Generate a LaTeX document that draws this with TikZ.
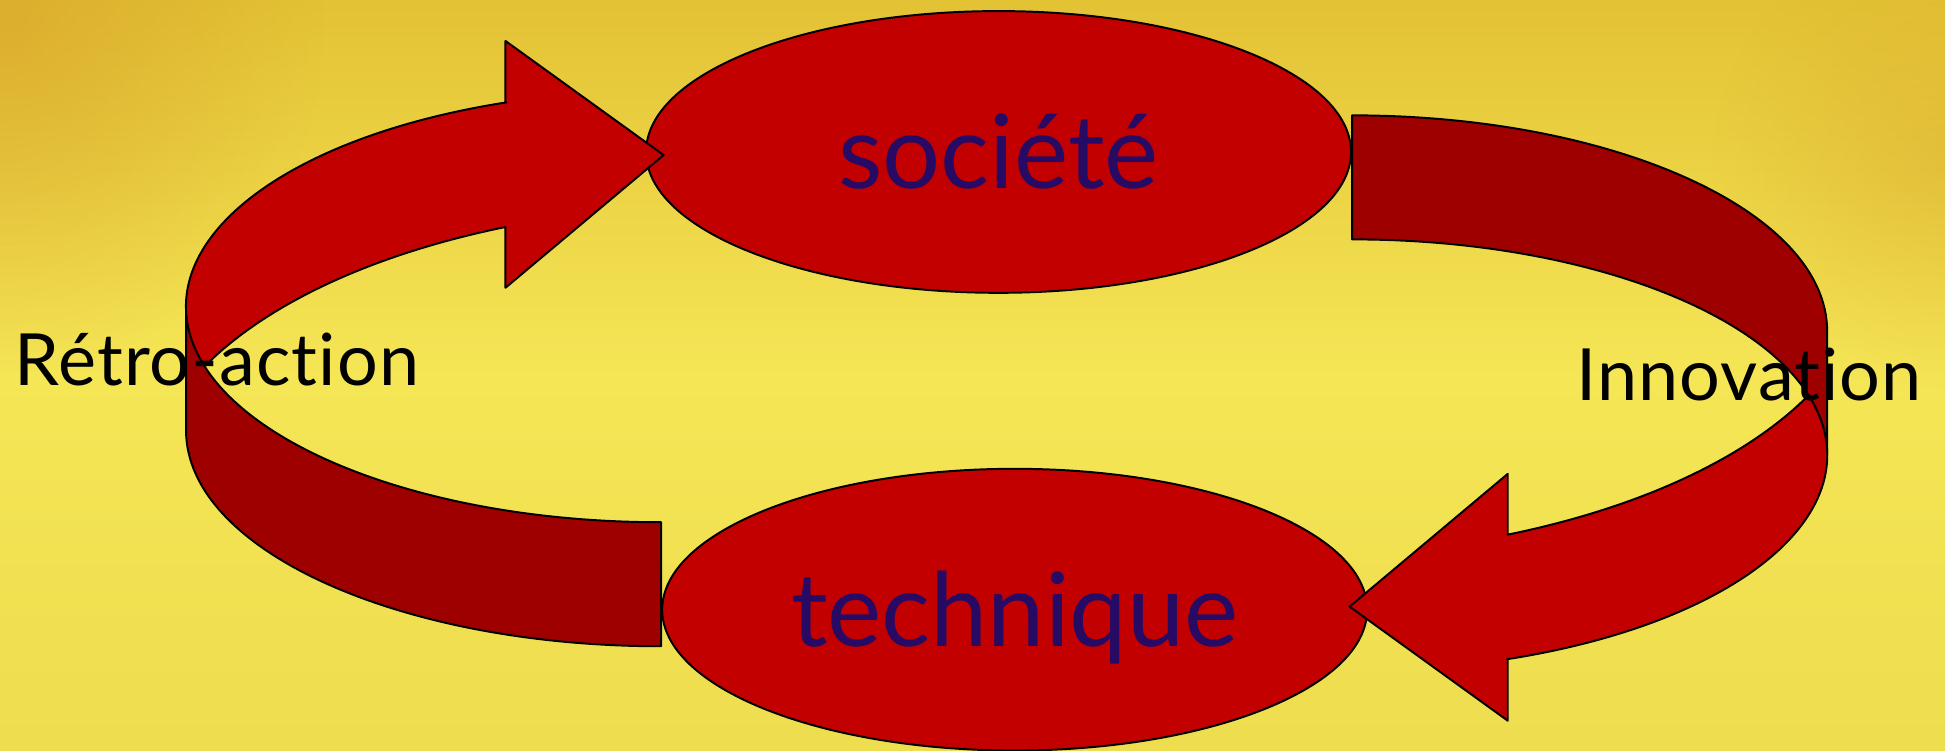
\documentclass[tikz,border=0pt]{standalone}
\usepackage{fontspec}
\setmainfont{Lato}[Ligatures=NoCommon]
\usepackage{tikz}
\usetikzlibrary{shapes.geometric,fadings}
\definecolor{redfront}{RGB}{194,0,0}
\definecolor{redside}{RGB}{158,0,0}
\definecolor{inkblue}{RGB}{38,10,100}
\definecolor{bgtop}{RGB}{227,194,52}
\definecolor{bgmid}{RGB}{245,230,86}
\definecolor{bgbot}{RGB}{238,221,78}
\definecolor{bgedge}{RGB}{214,158,40}
\tikzfading[name=glow,inner color=transparent!0,outer color=transparent!100]
\tikzset{
  front/.style={fill=redfront,draw=black,line width=0.45pt,line join=round},
  side/.style={fill=redside,draw=black,line width=0.45pt,line join=round},
  rim/.style={x radius=383,y radius=174},
  bubble/.style={ellipse,fill=redfront,draw=black,line width=0.45pt,inner sep=0pt,
    minimum width=5.68cm,minimum height=2.27cm,text=inkblue,
    font=\fontsize{23.5}{23.5}\selectfont,text height=16.9pt,text depth=0pt},
  tag/.style={inner sep=0pt,text=black,
    font=\fontsize{16.5}{16.5}\selectfont\addfontfeatures{LetterSpace=1.5}}
}
\newcommand{\loopshaft}{%
  \draw[side] (533,421) arc[rim,start angle=90,end angle=180] -- (150,347)
    arc[rim,start angle=180,end angle=90] -- cycle;
  \draw[front] (407.5,82.5) -- (407.5,33) -- (535,125) -- (407.5,232) -- (407.5,183)
    .. controls (300,205) and (215,245) .. (165,295.3)
    arc[rim,start angle=163.9,end angle=251] -- cycle;
}

\begin{document}
\begin{tikzpicture}[x=0.01cm,y=-0.01cm]
  \useasboundingbox (0,0) rectangle (1568,605.4);
  \shade[top color=bgtop,bottom color=bgbot,middle color=bgmid] (0,0) rectangle (1568,605.4);
  \begin{scope}
    \clip (0,0) rectangle (1568,605.4);
    \fill[bgedge,opacity=0.55,path fading=glow] (-260,-260) rectangle (260,300);
    \fill[bgedge,opacity=0.35,path fading=glow] (1380,-60) rectangle (1760,320);
  \end{scope}

  \node[bubble] (soc) at (805,122.5) {société};
  \node[bubble] (tech) at (818,491.5) {technique};

  \loopshaft
  \begin{scope}[rotate around={180:(811.5,307)}]
    \loopshaft
  \end{scope}

  \node[tag,anchor=base west] (retro) at (11,310.5) {Rétro-action};
  \node[tag,anchor=base east] (innov) at (1550,322.5) {Innovation};
\end{tikzpicture}
\end{document}
